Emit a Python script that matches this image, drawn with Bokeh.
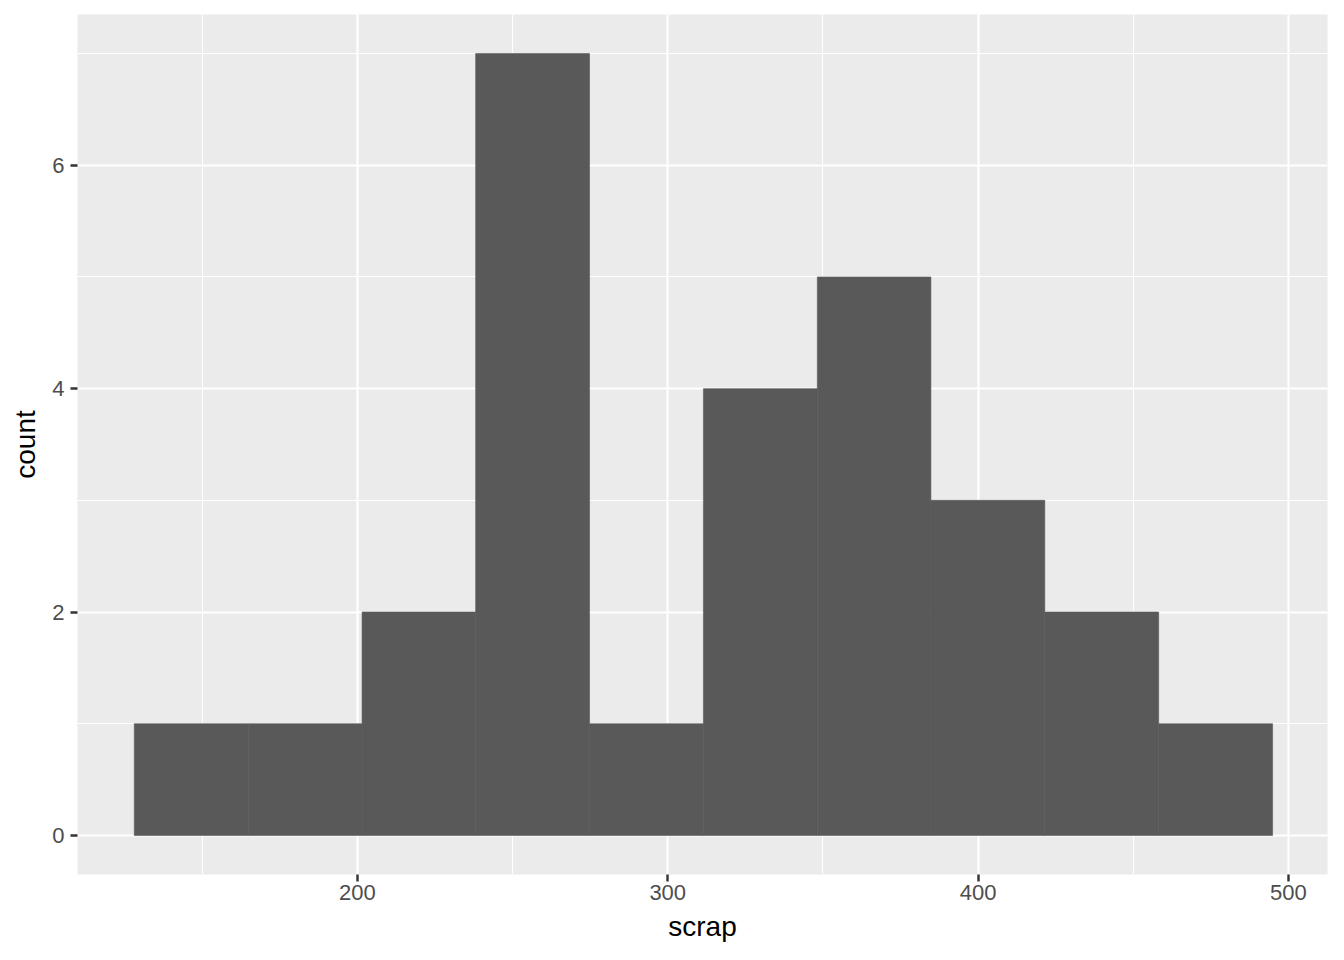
from bokeh.plotting import figure
from bokeh.models import FixedTicker, Range1d
from bokeh.embed import file_html
from bokeh.resources import INLINE

# Histogram of "scrap": bin edges and counts
bin_edges = [128.1, 164.8, 201.5, 238.1, 274.8, 311.5, 348.2, 384.8, 421.5, 458.2, 494.9]
counts = [1, 1, 2, 7, 1, 4, 5, 3, 2, 1]

x_ticks = [200, 300, 400, 500]
x_minor = [150, 250, 350, 450]
y_ticks = [0, 2, 4, 6]
y_minor = [1, 3, 5, 7]

FONT = "Liberation Sans"

p = figure(width=1328, height=944, output_backend="svg", toolbar_location=None,
           x_range=Range1d(109.8, 512.6), y_range=Range1d(-0.35, 7.35),
           min_border_left=77, min_border_right=1, min_border_top=14, min_border_bottom=70)

p.background_fill_color = "#EBEBEB"
p.border_fill_color = "white"
p.outline_line_color = None

p.quad(left=bin_edges[:-1], right=bin_edges[1:], bottom=0, top=counts,
       fill_color="#595959", line_color="#595959", line_width=0.6)

p.xaxis.ticker = FixedTicker(ticks=x_ticks, minor_ticks=x_minor)
p.yaxis.ticker = FixedTicker(ticks=y_ticks, minor_ticks=y_minor)

for g in (p.xgrid, p.ygrid):
    g.grid_line_color = "white"
    g.grid_line_width = 2.2
    g.minor_grid_line_color = "white"
    g.minor_grid_line_width = 1.1
    g.level = "underlay"

for ax in (p.xaxis, p.yaxis):
    ax.axis_line_color = None
    ax.major_tick_line_color = "#333333"
    ax.major_tick_line_width = 2.4
    ax.major_tick_out = 7
    ax.major_tick_in = 0
    ax.minor_tick_line_color = None
    ax.major_label_text_font = FONT
    ax.major_label_text_font_size = "22px"
    ax.major_label_text_color = "#4D4D4D"
    ax.axis_label_text_font = FONT
    ax.axis_label_text_font_size = "28px"
    ax.axis_label_text_font_style = "normal"
    ax.axis_label_text_color = "black"

p.xaxis.axis_label = "scrap"
p.yaxis.axis_label = "count"
p.xaxis.major_label_standoff = 3
p.yaxis.major_label_standoff = 6
p.xaxis.axis_label_standoff = 8
p.yaxis.axis_label_standoff = 8

open("out.html", "w").write(file_html(p, INLINE))
